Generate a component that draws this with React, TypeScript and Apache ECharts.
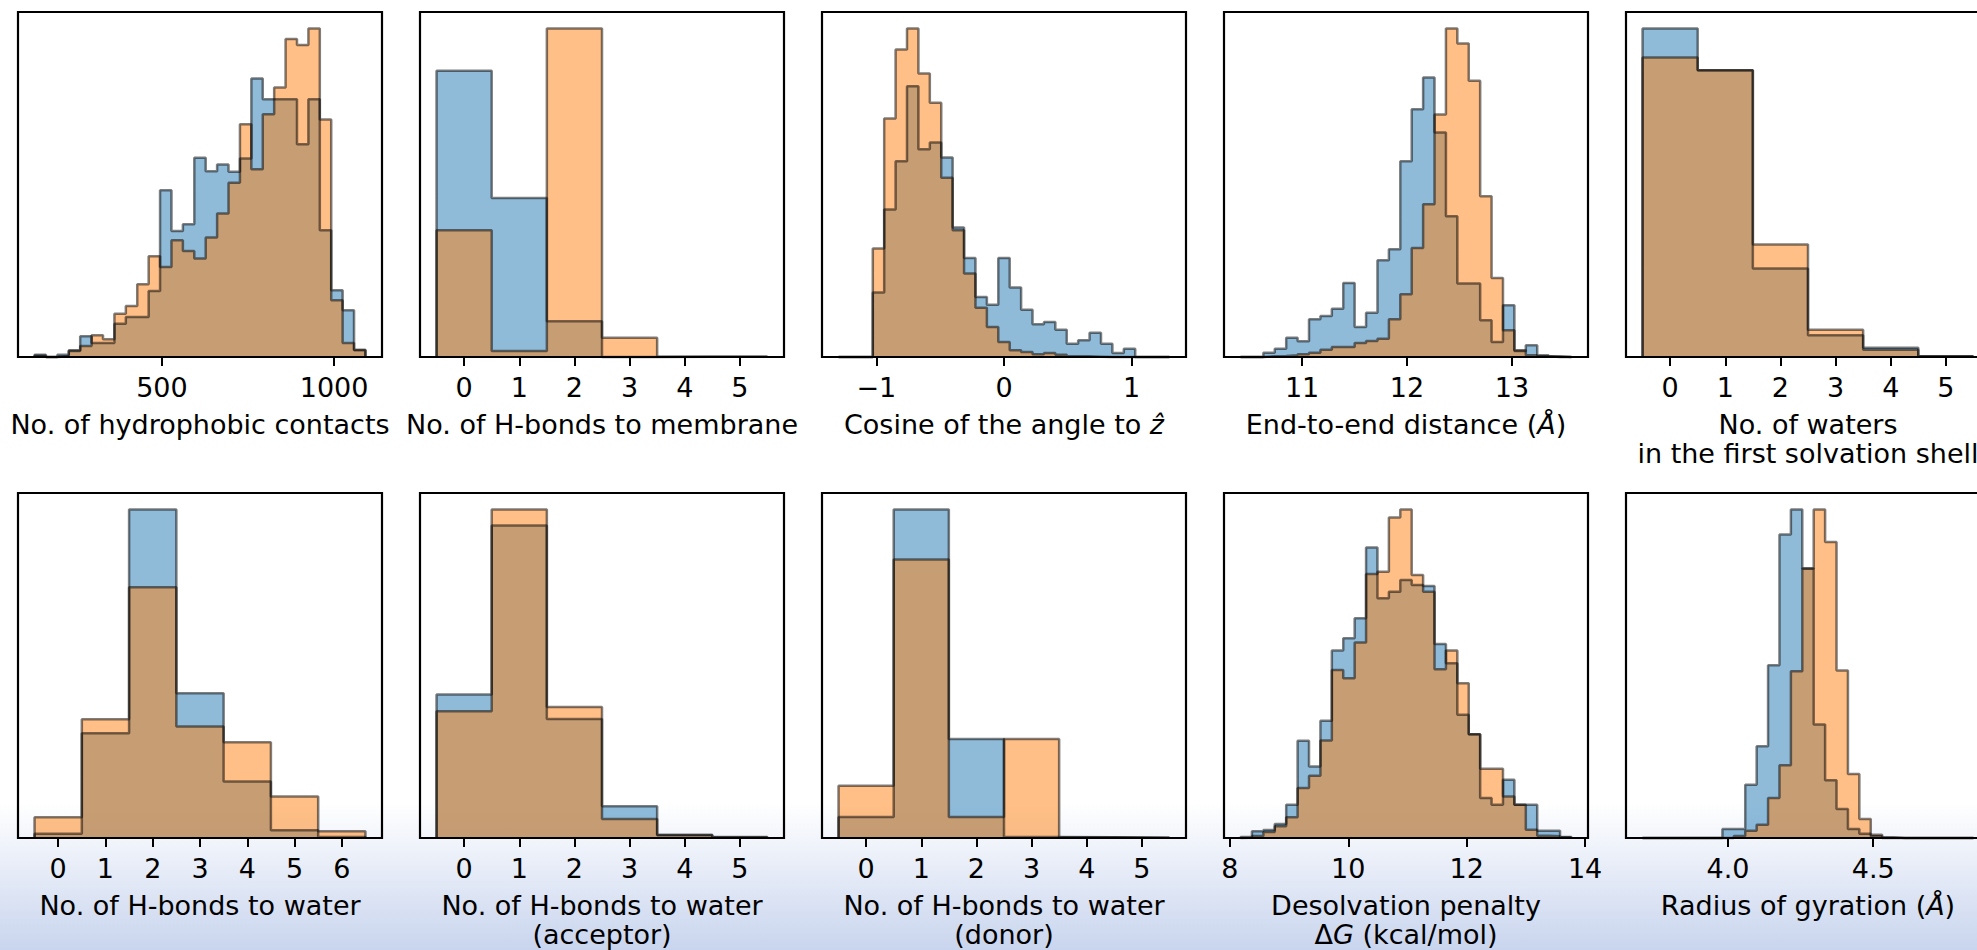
import React, { useEffect, useRef } from 'react';
import * as echarts from 'echarts';

// ---- data (bin ranges, counts; A = blue, B = orange) ----
const hydrophobicRange = [130, 1091];
const hydrophobicA = [7, 0, 7, 20, 62, 42, 42, 100, 120, 120, 198, 500, 378, 398, 597, 557, 577, 555, 595, 835, 773, 773, 773, 638, 773, 380, 200, 140, 20];
const hydrophobicB = [4, 0, 2, 18, 33, 65, 53, 130, 153, 218, 302, 270, 350, 318, 295, 358, 430, 522, 698, 563, 728, 808, 953, 935, 985, 712, 170, 42, 22];
const hydrophobicTicks = [500, 1000];

const membraneRange = [-0.5, 5.5];
const membraneA = [858, 477, 107, 0, 1, 1];
const membraneB = [380, 18, 985, 58, 1, 1];
const membraneTicks = [0, 1, 2, 3, 4, 5];

const cosineRange = [-1.296, 1.296];
const cosineA = [0, 0, 0, 193, 442, 587, 812, 623, 643, 598, 388, 297, 180, 157, 297, 208, 142, 98, 105, 82, 40, 50, 73, 40, 12, 25, 0, 0, 0];
const cosineB = [0, 0, 0, 325, 715, 922, 985, 850, 762, 537, 380, 250, 148, 90, 45, 20, 15, 8, 12, 7, 2, 2, 1, 0, 0, 0, 0, 0, 0];
const cosineTicks = [-1, 0, 1];

const endToEndRange = [10.413, 13.568];
const endToEndA = [0, 0, 13, 25, 58, 47, 113, 123, 145, 222, 90, 133, 290, 323, 587, 743, 838, 673, 422, 220, 220, 110, 45, 155, 18, 35, 5, 2, 0];
const endToEndB = [0, 0, 2, 3, 5, 8, 13, 22, 30, 30, 42, 48, 55, 113, 188, 327, 458, 727, 985, 940, 828, 482, 237, 80, 20, 5, 2, 0, 0];
const endToEndTicks = [11, 12, 13];

const watersRange = [-0.5, 5.5];
const watersA = [985, 860, 265, 65, 28, 2];
const watersB = [898, 860, 337, 82, 22, 2];
const watersTicks = [0, 1, 2, 3, 4, 5];

const hbWaterRange = [-0.5, 6.5];
const hbWaterA = [13, 315, 987, 435, 170, 23, 3];
const hbWaterB = [62, 357, 753, 335, 288, 125, 20];
const hbWaterTicks = [0, 1, 2, 3, 4, 5, 6];

const acceptorRange = [-0.5, 5.5];
const acceptorA = [430, 937, 357, 95, 10, 3];
const acceptorB = [380, 985, 393, 57, 8, 2];
const acceptorTicks = [0, 1, 2, 3, 4, 5];

const donorRange = [-0.5, 5.5];
const donorA = [63, 985, 297, 3, 2, 1];
const donorB = [157, 835, 63, 297, 2, 1];
const donorTicks = [0, 1, 2, 3, 4, 5];

const desolvRange = [8.18, 13.77];
const desolvA = [3, 20, 24, 42, 100, 292, 215, 352, 563, 600, 660, 873, 720, 740, 775, 760, 757, 583, 525, 370, 312, 120, 100, 175, 100, 100, 22, 22, 3];
const desolvB = [1, 6, 18, 35, 62, 150, 187, 293, 505, 480, 587, 793, 800, 963, 987, 790, 740, 507, 563, 465, 312, 208, 208, 125, 100, 25, 7, 5, 2];
const desolvTicks = [8, 10, 12, 14];

const gyrationRange = [3.706, 4.845];
const gyrationA = [0, 0, 0, 0, 0, 0, 0, 27, 27, 160, 275, 518, 910, 985, 808, 340, 173, 87, 27, 13, 5, 0, 0, 0, 0, 0, 0, 0, 0];
const gyrationB = [0, 0, 0, 0, 0, 0, 0, 0, 6, 22, 40, 120, 218, 500, 808, 985, 887, 502, 192, 57, 10, 2, 0, 0, 0, 0, 0, 0, 0];
const gyrationTicks = [4.0, 4.5];

// ---- helpers ----
const FONT = 'DejaVu Sans';
const minus = (v: number) => (v < 0 ? '\u2212' + Math.abs(v) : String(v));
const fixed1 = (v: number) => v.toFixed(1);

function binEdges(range: number[], n: number) {
  const w = (range[1] - range[0]) / n;
  const e: number[] = [];
  for (let i = 0; i <= n; i++) e.push(range[0] + i * w);
  return e;
}

function stepPoints(edges: number[], counts: number[]) {
  const pts: number[][] = [[edges[0], 0]];
  counts.forEach((c, i) => {
    pts.push([edges[i], c]);
    pts.push([edges[i + 1], c]);
  });
  pts.push([edges[edges.length - 1], 0]);
  return pts;
}

const panels = [
  { range: hydrophobicRange, a: hydrophobicA, b: hydrophobicB, ticks: hydrophobicTicks, name: 'No. of hydrophobic contacts', fmt: String },
  { range: membraneRange, a: membraneA, b: membraneB, ticks: membraneTicks, name: 'No. of H-bonds to membrane', fmt: String },
  { range: cosineRange, a: cosineA, b: cosineB, ticks: cosineTicks, name: 'Cosine of the angle to {i|\u1E91}', fmt: minus },
  { range: endToEndRange, a: endToEndA, b: endToEndB, ticks: endToEndTicks, name: 'End-to-end distance ({i|\u00C5})', fmt: String },
  { range: watersRange, a: watersA, b: watersB, ticks: watersTicks, name: 'No. of waters\nin the first solvation shell', fmt: String },
  { range: hbWaterRange, a: hbWaterA, b: hbWaterB, ticks: hbWaterTicks, name: 'No. of H-bonds to water', fmt: String },
  { range: acceptorRange, a: acceptorA, b: acceptorB, ticks: acceptorTicks, name: 'No. of H-bonds to water\n(acceptor)', fmt: String },
  { range: donorRange, a: donorA, b: donorB, ticks: donorTicks, name: 'No. of H-bonds to water\n(donor)', fmt: String },
  { range: desolvRange, a: desolvA, b: desolvB, ticks: desolvTicks, name: 'Desolvation penalty\n\u0394{i|G} (kcal/mol)', fmt: String },
  { range: gyrationRange, a: gyrationA, b: gyrationB, ticks: gyrationTicks, name: 'Radius of gyration ({i|\u00C5})', fmt: fixed1 },
];

const BLUE = '#1f77b4';
const ORANGE = '#ff7f0e';

function buildOption() {
  const grid: any[] = [];
  const xAxis: any[] = [];
  const yAxis: any[] = [];
  const series: any[] = [];
  panels.forEach((p, i) => {
    const row = Math.floor(i / 5);
    const col = i % 5;
    grid.push({
      left: 18 + col * 402,
      top: row === 0 ? 12 : 493,
      width: 364,
      height: 345,
      show: true,
      borderColor: '#000',
      borderWidth: 2.2,
      backgroundColor: 'transparent',
      containLabel: false,
      outerBoundsMode: 'none',
    });
    const span = p.range[1] - p.range[0];
    const edges = binEdges(p.range, p.a.length);
    const ymax = 1.05 * Math.max(...p.a, ...p.b);
    xAxis.push({
      type: 'value',
      gridIndex: i,
      min: p.range[0] - 0.05 * span,
      max: p.range[1] + 0.05 * span,
      z: 5,
      axisLine: { show: true, onZero: false, lineStyle: { color: '#000', width: 2.2 } },
      axisTick: { show: true, length: 9, inside: false, lineStyle: { color: '#000', width: 2 }, customValues: p.ticks },
      axisLabel: {
        show: true,
        customValues: p.ticks,
        formatter: (v: number) => p.fmt(v),
        fontSize: 27,
        lineHeight: 27,
        fontFamily: FONT,
        color: '#000',
        margin: 16.5,
      },
      splitLine: { show: false },
      name: p.name,
      nameLocation: 'middle',
      nameGap: 52.5,
      nameMoveOverlap: false,
      nameTextStyle: {
        fontSize: 27,
        fontFamily: FONT,
        color: '#000',
        lineHeight: 29,
        rich: {
          i: { fontStyle: 'italic', fontSize: 27, fontFamily: FONT, color: '#000', lineHeight: 29 },
        },
      },
    });
    yAxis.push({ type: 'value', gridIndex: i, min: 0, max: ymax, show: false, splitLine: { show: false } });
    [
      { counts: p.a, color: BLUE, label: 'A' },
      { counts: p.b, color: ORANGE, label: 'B' },
    ].forEach((s) => {
      series.push({
        type: 'line',
        name: s.label,
        xAxisIndex: i,
        yAxisIndex: i,
        data: stepPoints(edges, s.counts),
        symbol: 'none',
        showSymbol: false,
        silent: true,
        clip: false,
        lineStyle: { color: '#000', opacity: 0.5, width: 2.5 },
        areaStyle: { color: s.color, opacity: 0.5 },
        z: 2,
      });
    });
  });
  return {
    animation: false,
    backgroundColor: 'transparent',
    graphic: [
      {
        type: 'rect',
        z: -100,
        silent: true,
        shape: { x: 0, y: 0, width: 1977, height: 950 },
        style: {
          fill: new echarts.graphic.LinearGradient(0, 0, 0, 1, [
            { offset: 0, color: '#ffffff' },
            { offset: 0.845, color: '#ffffff' },
            { offset: 1, color: '#c9d5ee' },
          ]),
        },
      },
    ],
    grid,
    xAxis,
    yAxis,
    series,
  };
}

export default function App() {
  const ref = useRef<HTMLDivElement>(null);
  useEffect(() => {
    if (!ref.current) return;
    const chart = echarts.init(ref.current, undefined, { renderer: 'svg' });
    chart.setOption(buildOption() as any);
    return () => chart.dispose();
  }, []);
  return (
    <div
      ref={ref}
      style={{ position: 'fixed', left: 0, top: 0, width: 1977, height: 950, background: '#fff' }}
    />
  );
}
